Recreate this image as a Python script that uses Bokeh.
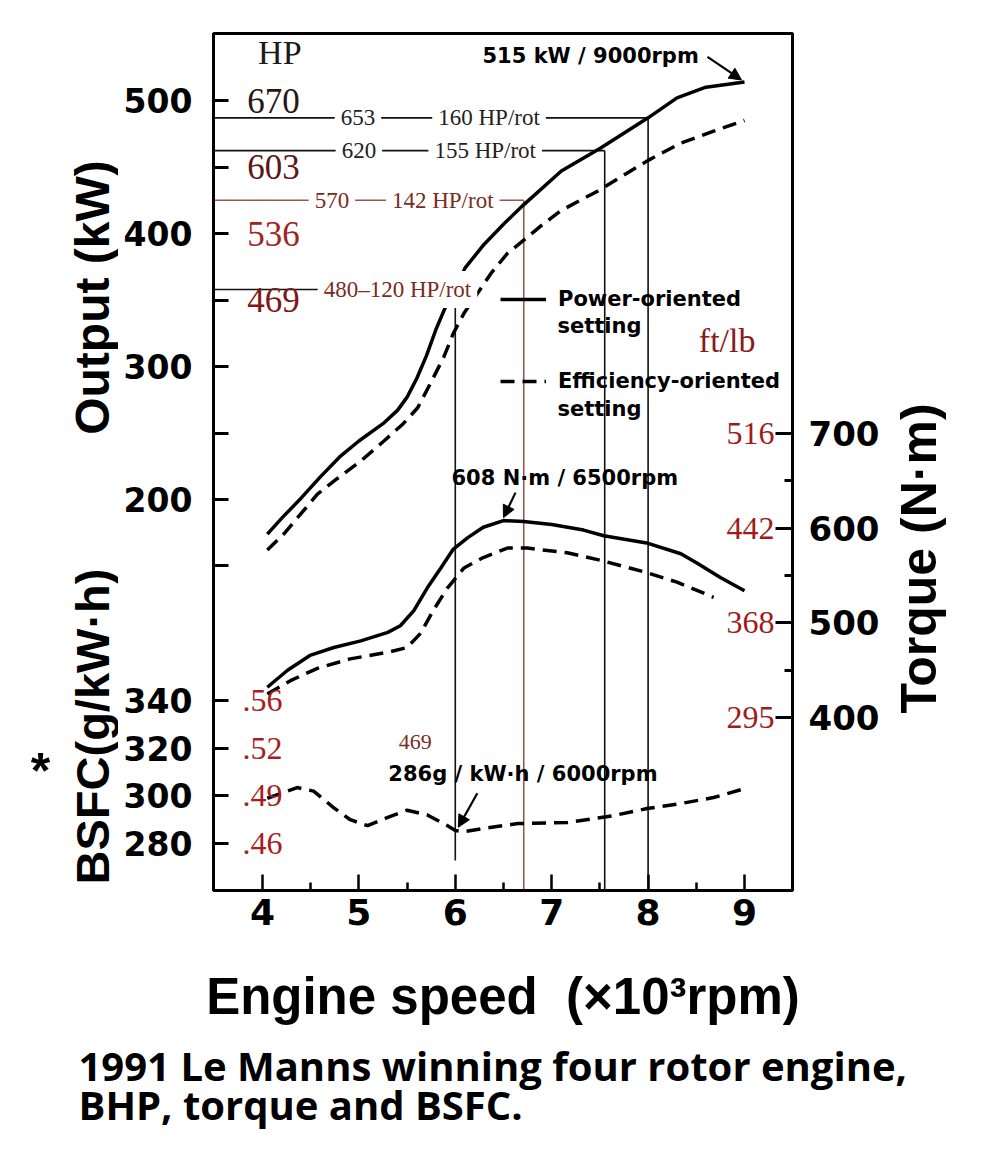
from bokeh.plotting import figure
from bokeh.layouts import row, column
from bokeh.models import Range1d, LinearAxis, FixedTicker, Label, Arrow, NormalHead, Legend, LegendItem
from bokeh.core.properties import value
from bokeh.embed import file_html
from bokeh.resources import INLINE

# ---------------- data ----------------
rpm_power = [4.05, 4.2, 4.4, 4.6, 4.8, 5.0, 5.25, 5.4, 5.5, 5.6, 5.7, 5.8, 5.9, 6.0,
             6.1, 6.3, 6.5, 6.7, 7.1, 7.5, 8.0, 8.3, 8.6, 9.0]
power_solid = [174, 186, 201, 217, 232, 244, 257, 267, 277, 291, 308, 328, 345, 358,
               374, 392, 407, 421, 447, 464, 487, 502, 510, 514]

rpm_power_eff = [4.05, 4.22, 4.57, 4.78, 5.02, 5.26, 5.46, 5.61, 5.74, 5.88, 5.98, 6.09,
                 6.23, 6.37, 6.54, 6.71, 6.91, 7.09, 7.48, 8.0, 8.34, 8.68, 9.0]
power_eff = [162, 174, 204, 216, 229, 244, 257, 269, 287, 307, 325, 340,
             355, 370, 385, 395, 407, 417, 432, 455, 468, 477, 485]

rpm_torque = [4.05, 4.26, 4.5, 4.74, 5.02, 5.3, 5.43, 5.57, 5.71, 5.85, 5.98, 6.13,
              6.29, 6.5, 6.71, 7.0, 7.33, 7.54, 8.0, 8.34, 8.51, 8.75, 9.0]
torque_solid = [432, 450, 466, 474, 481, 490, 497, 513, 537, 558, 578, 590,
                601, 608, 607, 604, 598, 592, 584, 573, 563, 548, 534]

rpm_torque_eff = [4.05, 4.29, 4.57, 4.91, 5.3, 5.5, 5.64, 5.77, 5.92, 6.09, 6.29, 6.54,
                  6.75, 7.16, 7.51, 7.99, 8.3, 8.68]
torque_eff = [425, 439, 452, 462, 469, 474, 489, 513, 537, 558, 569, 579,
              579, 574, 566, 553, 543, 527]

rpm_bsfc = [4.05, 4.19, 4.36, 4.53, 4.74, 4.91, 5.09, 5.3, 5.5, 5.71, 5.92, 6.0,
            6.09, 6.29, 6.65, 7.16, 7.64, 7.99, 8.34, 8.68, 9.0]
bsfc_eff = [299, 301, 303.5, 302, 295, 290, 287.5, 291, 294, 292, 287.5, 285.5,
            285, 286.3, 288.4, 288.8, 291.7, 294.7, 296.8, 299.3, 303]

rpm_ticks = [4, 5, 6, 7, 8, 9]
rpm_minor = [4.5, 5.5, 6.5, 7.5, 8.5]
kw_ticks = [150, 200, 250, 300, 350, 400, 450, 500]
kw_labeled = [200, 300, 400, 500]
bsfc_ticks = [280, 300, 320, 340]
torque_ticks = [400, 500, 600, 700]
torque_minor = [450, 550, 650]

hp_labels = ["670", "603", "536", "469"]
hp_at_kw = [500, 450, 400, 350]
hp_colors = ["#2b1414", "#5c1616", "#a32222", "#7d1818"]
ftlb_labels = ["516", "442", "368", "295"]
ftlb_at_nm = [700, 600, 500, 400]
lb_labels = [".56", ".52", ".49", ".46"]
lb_at_bsfc = [340, 320, 300, 280]

ref_hp = [653, 620, 570, 480]
ref_rpm = [8.0, 7.55, 6.71, 6.0]
ref_num_text = ["653", "620", "570", None]
ref_rot_text = ["160 HP/rot", "155 HP/rot", "142 HP/rot", "480\u2013120 HP/rot"]
ref_line_colors = ["#111111", "#111111", "#8f5a50", "#111111"]
ref_text_colors = ["#222222", "#222222", "#7a2c22", "#7a2c22"]

peak_power = (9.0, 514)
peak_torque = (6.5, 608)
min_bsfc = (6.0, 286)

x_title = "Engine speed\u00a0 (\u00d710\u00b3rpm)"
caption = ["1991 Le Manns winning four rotor engine,", "BHP, torque and BSFC."]

# ---------------- geometry (page pixels) ----------------
LEFT_W, RIGHT_W = 118, 113
BL, BR, BT, BB = 95, 95, 33, 142
FW, FH = 579, 857
MAIN_W = BL + FW + BR
MAIN_H = BT + FH + BB
CAP_H = 108
FRAME_TOP, FRAME_BOTTOM = BT, BT + FH
X0, X1 = 3.4917, 9.498
KW0, KW1 = -94.0, 550.4
NM0, NM1 = 217.4, 1122.4
G0, G1 = 260.3, 619.9
px_x = FW / (X1 - X0)
px_kw = FH / (KW1 - KW0)
px_nm = FH / (NM1 - NM0)
px_g = FH / (G1 - G0)

BOLD_SANS = "DejaVu Sans"
TITLE_SANS = "Liberation Sans"
SERIF = "Liberation Serif"
DASH = "14 8"

p = figure(width=MAIN_W, height=MAIN_H, x_range=Range1d(X0, X1), y_range=Range1d(KW0, KW1),
           output_backend="svg", toolbar_location=None,
           min_border_left=BL, min_border_right=BR, min_border_top=BT, min_border_bottom=BB,
           background_fill_color="white", border_fill_color="white")
p.extra_y_ranges = {"nm": Range1d(NM0, NM1), "g": Range1d(G0, G1)}
p.grid.visible = False
p.outline_line_color = "black"
p.outline_line_width = 3

# x axis
xa = p.xaxis[0]
xa.ticker = FixedTicker(ticks=rpm_ticks, minor_ticks=rpm_minor)
xa.major_tick_in = 16
xa.major_tick_out = 0
xa.minor_tick_in = 8
xa.minor_tick_out = 0
xa.major_tick_line_width = 2.5
xa.minor_tick_line_width = 2.5
xa.axis_line_width = 3
xa.major_label_text_font = BOLD_SANS
xa.major_label_text_font_style = "bold"
xa.major_label_text_font_size = "36px"
xa.major_label_text_color = "black"
xa.major_label_standoff = 8
xa.axis_label = x_title
xa.axis_label_text_font = TITLE_SANS
xa.axis_label_text_font_style = "bold"
xa.axis_label_text_font_size = "51px"
xa.axis_label_text_color = "black"
xa.axis_label_standoff = 40

# left axis: output ticks and BSFC ticks share the left frame edge
bsfc_kw = [round(KW0 + (b - G0) * (KW1 - KW0) / (G1 - G0), 4) for b in bsfc_ticks]
ya = p.yaxis[0]
ya.ticker = FixedTicker(ticks=kw_ticks + bsfc_kw)
ov = {t: (str(t) if t in kw_labeled else "") for t in kw_ticks}
ov.update({k: str(b) for k, b in zip(bsfc_kw, bsfc_ticks)})
ya.major_label_overrides = ov
ya.major_tick_in = 15
ya.major_tick_out = 0
ya.minor_tick_in = 0
ya.minor_tick_out = 0
ya.major_tick_line_width = 3
ya.axis_line_width = 3
ya.major_label_text_font = BOLD_SANS
ya.major_label_text_font_style = "bold"
ya.major_label_text_font_size = "33px"
ya.major_label_text_color = "black"
ya.major_label_standoff = 21

# right axis: torque
ra = LinearAxis(y_range_name="nm", ticker=FixedTicker(ticks=torque_ticks, minor_ticks=torque_minor))
ra.major_tick_in = 17
ra.major_tick_out = 0
ra.minor_tick_in = 8
ra.minor_tick_out = 0
ra.major_tick_line_width = 3
ra.minor_tick_line_width = 3
ra.axis_line_width = 3
ra.major_label_text_font = BOLD_SANS
ra.major_label_text_font_style = "bold"
ra.major_label_text_font_size = "34px"
ra.major_label_text_color = "black"
ra.major_label_standoff = 16
p.add_layout(ra, "right")

# reference lines (HP per rotor)
ref_kw = [h * 0.7457 for h in ref_hp]
ref_bottom = [KW0, KW0, KW0, KW0 + 30 / px_kw]
p.segment(x0=[X0] * len(ref_kw), y0=ref_kw, x1=ref_rpm, y1=ref_kw,
          line_color=ref_line_colors, line_width=1.6)
p.segment(x0=ref_rpm, y0=ref_kw, x1=ref_rpm, y1=ref_bottom,
          line_color=ref_line_colors, line_width=1.6)

# curves
r_pow = p.line(rpm_power, power_solid, line_color="black", line_width=3.5)
r_eff = p.line(rpm_power_eff, power_eff, line_color="black", line_width=3.5, line_dash=DASH)
p.line(rpm_torque, torque_solid, y_range_name="nm", line_color="black", line_width=3.5)
p.line(rpm_torque_eff, torque_eff, y_range_name="nm", line_color="black", line_width=3.5,
       line_dash=DASH)
p.line(rpm_bsfc, bsfc_eff, y_range_name="g", line_color="black", line_width=3.5, line_dash=DASH)

# labels on the reference lines
num_x = [4.99, 5.0, 4.72, None]
rot_x = [6.35, 6.31, 5.87, 5.40]
for i in range(len(ref_hp)):
    if ref_num_text[i]:
        p.add_layout(Label(x=num_x[i], y=ref_kw[i], text=ref_num_text[i], text_font=SERIF,
                           text_font_size="23px", text_align="center", text_baseline="middle",
                           text_color=ref_text_colors[i], background_fill_color="white", padding=6))
    p.add_layout(Label(x=rot_x[i], y=ref_kw[i], text=ref_rot_text[i], text_font=SERIF,
                       text_font_size="23px", text_align="center", text_baseline="middle",
                       text_color=ref_text_colors[i], background_fill_color="white", padding=6))

# conversion labels (HP, ft/lb, lb/hp.h)
p.text(x=[4.115] * len(hp_labels), y=hp_at_kw, text=hp_labels, text_font=value(SERIF),
       text_font_size="35px", text_align="center", text_baseline="middle", text_color=hp_colors)
p.add_layout(Label(x=4.18, y=536, text="HP", text_font=SERIF, text_font_size="34px",
                   text_align="center", text_baseline="middle", text_color="#1a1a1a"))
p.text(x=[9.311] * len(ftlb_labels), y=ftlb_at_nm, text=ftlb_labels, y_range_name="nm",
       text_font=value(SERIF), text_font_size="32px", text_align="right", text_baseline="middle",
       text_color="#a01c1c")
p.add_layout(Label(x=8.82, y=798, y_range_name="nm", text="ft/lb", text_font=SERIF,
                   text_font_size="34px", text_align="center", text_baseline="middle",
                   text_color="#8c1a1a"))
p.text(x=[4.0] * len(lb_labels), y=lb_at_bsfc, text=lb_labels, y_range_name="g",
       text_font=value(SERIF), text_font_size="32px", text_align="center", text_baseline="middle",
       text_color="#a81e1e")

# callouts
def callout(pt, rng, text, dx, dy, size="21px", font=BOLD_SANS, style="bold", color="black",
            align="left"):
    p.add_layout(Label(x=pt[0], y=pt[1], y_range_name=rng, text=text, x_offset=dx, y_offset=dy,
                       text_font=font, text_font_style=style, text_font_size=size,
                       text_align=align, text_baseline="middle", text_color=color))

callout(peak_power, "default", "515 kW / 9000rpm", -262, 26)
callout(peak_torque, "nm", "608 N\u00b7m / 6500rpm", -52, 43)
callout(min_bsfc, "g", "286g / kW\u00b7h / 6000rpm", -67, 55)
callout(min_bsfc, "g", "469", -40, 87, size="22px", font=SERIF, style="normal",
        color="#7a2c22", align="center")

def arrow(pt, rng, pxy, sdx, sdy, edx, edy):
    p.add_layout(Arrow(x_start=pt[0] + sdx / px_x, y_start=pt[1] + sdy / pxy,
                       x_end=pt[0] + edx / px_x, y_end=pt[1] + edy / pxy, y_range_name=rng,
                       line_width=2.2, line_color="black",
                       end=NormalHead(size=12, fill_color="black", line_color="black")))

arrow(peak_power, "default", px_kw, -37, 25, -3, 2)
arrow(peak_torque, "nm", px_nm, 12, 28, 0, 3)
arrow(min_bsfc, "g", px_g, 22, 36, 3, 2)

# legend
legend = Legend(items=[LegendItem(label="Power-oriented", renderers=[r_pow]),
                       LegendItem(label="Efficiency-oriented", renderers=[r_eff])],
                location=(287, 497), orientation="vertical", glyph_width=46, glyph_height=24,
                label_height=24, label_standoff=12, spacing=58, padding=0, margin=0,
                border_line_alpha=0, background_fill_alpha=0,
                label_text_font=BOLD_SANS, label_text_font_style="bold",
                label_text_font_size="21px", label_text_color="black")
p.add_layout(legend)
for yy in (565, 482):
    p.add_layout(Label(x=344, y=yy, x_units="screen", y_units="screen", text="setting",
                       text_font=BOLD_SANS, text_font_style="bold", text_font_size="21px",
                       text_baseline="middle", text_color="black"))


# ---------------- side panels holding the rotated titles and the caption ----------------
# their data coordinates are page pixels; the side panels share the main frame's borders
def panel(x0, x1, y_top, y_bottom, w, h, top=0, bottom=0):
    f = figure(width=w, height=h, x_range=Range1d(x0, x1), y_range=Range1d(y_bottom, y_top),
               output_backend="svg", toolbar_location=None, x_axis_location=None,
               y_axis_location=None, min_border_left=0, min_border_right=0,
               min_border_top=top, min_border_bottom=bottom, outline_line_color=None,
               background_fill_color="white", border_fill_color="white")
    f.grid.visible = False
    return f

left = panel(0, LEFT_W, FRAME_TOP, FRAME_BOTTOM, LEFT_W, MAIN_H, BT, BB)
left.add_layout(Label(x=92, y=297, text="Output (kW)", angle=90, angle_units="deg",
                      text_font=TITLE_SANS, text_font_style="bold", text_font_size="48px",
                      text_align="center", text_baseline="middle", text_color="black"))
left.add_layout(Label(x=92, y=726, text="BSFC(g/kW\u00b7h)", angle=90, angle_units="deg",
                      text_font=TITLE_SANS, text_font_style="bold", text_font_size="47px",
                      text_align="center", text_baseline="middle", text_color="black"))
left.add_layout(Label(x=40, y=770, text="*", text_font=TITLE_SANS, text_font_style="bold",
                      text_font_size="50px", text_align="center", text_baseline="middle",
                      text_color="black"))

x_off = LEFT_W + MAIN_W
right = panel(x_off, x_off + RIGHT_W, FRAME_TOP, FRAME_BOTTOM, RIGHT_W, MAIN_H, BT, BB)
right.add_layout(Label(x=918, y=558, text="Torque (N\u00b7m)", angle=90, angle_units="deg",
                       text_font=TITLE_SANS, text_font_style="bold", text_font_size="50px",
                       text_align="center", text_baseline="middle", text_color="black"))

TOTAL_W = LEFT_W + MAIN_W + RIGHT_W
cap = panel(0, TOTAL_W, MAIN_H, MAIN_H + CAP_H, TOTAL_W, CAP_H)
for txt, yy in zip(caption, (1065, 1104)):
    cap.add_layout(Label(x=78, y=yy, text=txt, text_font="Open Sans", text_font_style="bold",
                         text_font_size="40px", text_align="left", text_baseline="middle",
                         text_color="black"))

layout = column(row(left, p, right, spacing=0), cap, spacing=0)
open("out.html", "w").write(file_html(layout, INLINE))
